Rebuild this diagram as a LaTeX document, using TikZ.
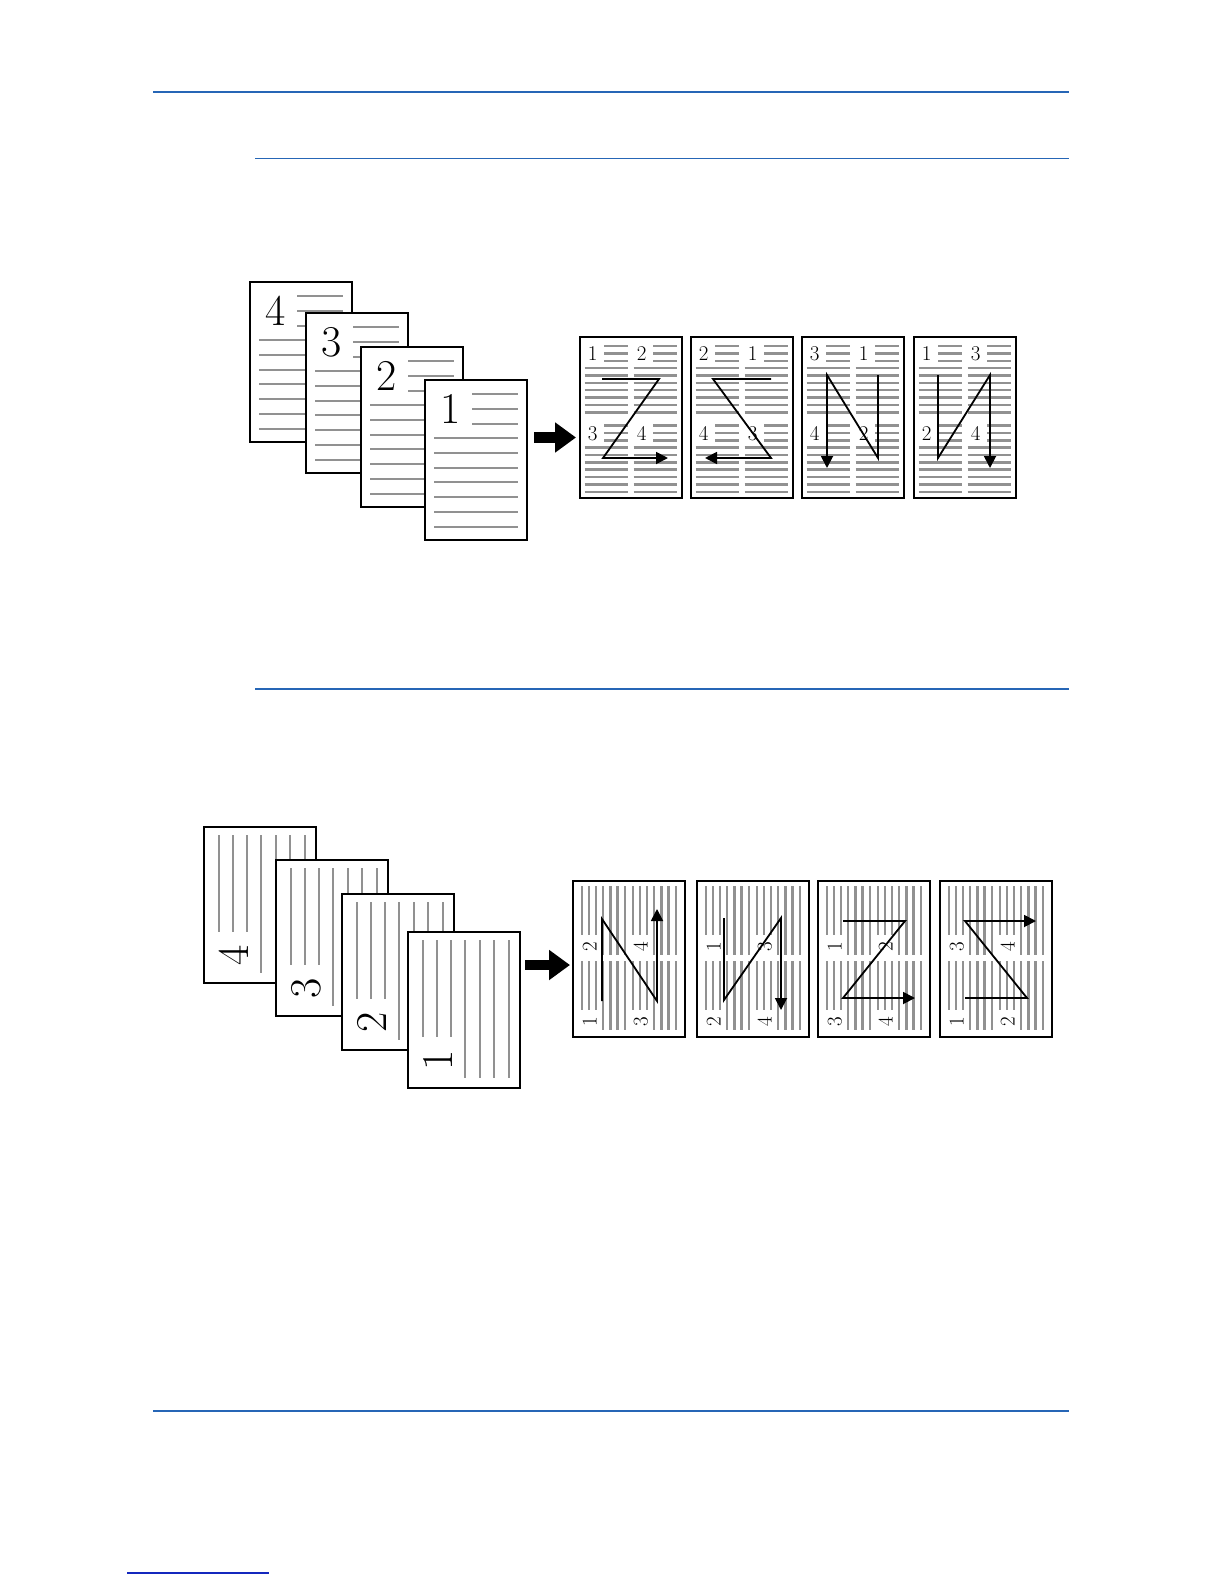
\documentclass[tikz,border=0pt]{standalone}
\usepackage{fontspec}
\usetikzlibrary{arrows.meta}
\definecolor{rulecol}{RGB}{38,102,182}
\definecolor{rulecoldark}{RGB}{20,40,190}
\definecolor{txtgray}{RGB}{145,145,145}
\tikzset{
  gl/.style={draw=txtgray, line width=2.1pt},
  hrule/.style={draw=rulecol, line width=1.3pt},
  num/.style={inner sep=0pt, outer sep=0pt, anchor=base west},
  sheetA/.style={draw=black, fill=white, line width=2.1pt, anchor=north west, inner sep=0pt, outer sep=0pt, minimum width=102pt, minimum height=160pt},
  sheetO/.style={sheetA, minimum height=161pt},
  sheetB/.style={draw=black, fill=white, line width=2.1pt, anchor=north west, inner sep=0pt, outer sep=0pt, minimum width=112pt, minimum height=156pt},
  zz/.style={draw=black, line width=1.8pt, -{Triangle[length=12pt,width=12pt]}},
  fatarrow/.style={draw=black, line width=10.5pt, -{Triangle[length=21pt,width=29pt]}}
}
\newcommand\numfnt[1]{\fontsize{#1}{#1}\selectfont\addfontfeature{FakeBold=1.3}}
% horizontal-text page content: x, y, xscale, yscale, number, font size, node name
\newcommand\hcont[7]{%
  \begin{scope}[shift={(#1,#2)}, xscale=#3, yscale=#4]
    \foreach \yy in {14,29,44}{\draw[gl] (47,\yy) -- (93,\yy);}
    \foreach \yy in {58,73,88,102,117,132,147}{\draw[gl] (9,\yy) -- (93,\yy);}
    \node[num, font=\numfnt{#6}] (#7) at (15,43) {#5};
  \end{scope}}
% rotated-text page content
\newcommand\vcont[7]{%
  \begin{scope}[shift={(#1,#2)}, xscale=#3, yscale=#4]
    \foreach \xx in {15,29,43}{\draw[gl] (\xx,8) -- (\xx,105);}
    \foreach \xx in {57,72,86,101}{\draw[gl] (\xx,8) -- (\xx,146);}
    \node[num, rotate=90, font=\numfnt{#6}] (#7) at (44,138) {#5};
  \end{scope}}
\begin{document}
\begin{tikzpicture}[x=1pt, y=-1pt]
\fill[white] (0,0) rectangle (1224,1584);
\useasboundingbox (0,0) rectangle (1224,1584);

% blue rules
\coordinate (ra1) at (153,92);   \coordinate (ra2) at (1069,92);
\coordinate (rb1) at (255,158.5); \coordinate (rb2) at (1069,158.5);
\coordinate (rc1) at (255,689);  \coordinate (rc2) at (1069,689);
\coordinate (rd1) at (153,1411); \coordinate (rd2) at (1069,1411);
\coordinate (re1) at (127,1573); \coordinate (re2) at (269,1573);
\draw[hrule] (ra1) -- (ra2);
\draw[hrule] (rb1) -- (rb2);
\draw[hrule] (rc1) -- (rc2);
\draw[hrule] (rd1) -- (rd2);
\draw[draw=rulecoldark, line width=1.3pt] (re1) -- (re2);

% ===== top: stacked input pages =====
\node[sheetA, line width=1.5pt] (t4) at (250,282) {};
\hcont{250}{282}{1}{1}{4}{44}{t4n}
\node[sheetA] (t3) at (306,313) {};
\hcont{306}{313}{1}{1}{3}{44}{t3n}
\node[sheetA] (t2) at (361,347) {};
\hcont{361}{347}{1}{1}{2}{44}{t2n}
\node[sheetA] (t1) at (425,380) {};
\hcont{425}{380}{1}{1}{1}{44}{t1n}

\coordinate (fa1) at (534,437.5); \coordinate (fa2) at (576,437.5);
\draw[fatarrow] (fa1) -- (fa2);

% ===== top: output pages =====
% P1
\node[sheetO] (p1) at (580,337) {};
\hcont{580}{339}{0.52}{0.5}{1}{21}{p1a}
\hcont{629}{339}{0.52}{0.5}{2}{21}{p1b}
\hcont{580}{418.5}{0.52}{0.5}{3}{21}{p1c}
\hcont{629}{418.5}{0.52}{0.5}{4}{21}{p1d}
\begin{scope}[shift={(580,337)}]
  \draw[zz] (22,42) -- (79,42) -- (23,121) -- (88,121);
\end{scope}
% P2
\node[sheetO] (p2) at (691,337) {};
\hcont{691}{339}{0.52}{0.5}{2}{21}{p2a}
\hcont{740}{339}{0.52}{0.5}{1}{21}{p2b}
\hcont{691}{418.5}{0.52}{0.5}{4}{21}{p2c}
\hcont{740}{418.5}{0.52}{0.5}{3}{21}{p2d}
\begin{scope}[shift={(691,337)}]
  \draw[zz] (80,42) -- (22,42) -- (80,121) -- (14,121);
\end{scope}
% P3
\node[sheetO] (p3) at (802,337) {};
\hcont{802}{339}{0.52}{0.5}{3}{21}{p3a}
\hcont{851}{339}{0.52}{0.5}{1}{21}{p3b}
\hcont{802}{418.5}{0.52}{0.5}{4}{21}{p3c}
\hcont{851}{418.5}{0.52}{0.5}{2}{21}{p3d}
\begin{scope}[shift={(802,337)}]
  \draw[zz] (76,38) -- (76,121) -- (25,38) -- (25,131);
\end{scope}
% P4
\node[sheetO] (p4) at (914,337) {};
\hcont{914}{339}{0.52}{0.5}{1}{21}{p4a}
\hcont{963}{339}{0.52}{0.5}{3}{21}{p4b}
\hcont{914}{418.5}{0.52}{0.5}{2}{21}{p4c}
\hcont{963}{418.5}{0.52}{0.5}{4}{21}{p4d}
\begin{scope}[shift={(914,337)}]
  \draw[zz] (24,38) -- (24,121) -- (76,38) -- (76,131);
\end{scope}

% ===== bottom: stacked input pages =====
\node[sheetB] (b4) at (204,827) {};
\vcont{204}{827}{1}{1}{4}{44}{b4n}
\node[sheetB] (b3) at (276,860) {};
\vcont{276}{860}{1}{1}{3}{44}{b3n}
\node[sheetB] (b2) at (342,894) {};
\vcont{342}{894}{1}{1}{2}{44}{b2n}
\node[sheetB] (b1) at (408,932) {};
\vcont{408}{932}{1}{1}{1}{44}{b1n}

\coordinate (fb1) at (525,965); \coordinate (fb2) at (570,965);
\draw[fatarrow] (fb1) -- (fb2);

% ===== bottom: output pages =====
% Q1
\node[sheetB] (q1) at (573,881) {};
\vcont{574.5}{882}{0.5}{0.5}{2}{21}{q1a}
\vcont{625.5}{882}{0.5}{0.5}{4}{21}{q1b}
\vcont{574.5}{957}{0.5}{0.5}{1}{21}{q1c}
\vcont{625.5}{957}{0.5}{0.5}{3}{21}{q1d}
\begin{scope}[shift={(573,881)}]
  \draw[zz] (29,120) -- (29,38) -- (84,120) -- (84,28);
\end{scope}
% Q2
\node[sheetB] (q2) at (697,881) {};
\vcont{698.5}{882}{0.5}{0.5}{1}{21}{q2a}
\vcont{749.5}{882}{0.5}{0.5}{3}{21}{q2b}
\vcont{698.5}{957}{0.5}{0.5}{2}{21}{q2c}
\vcont{749.5}{957}{0.5}{0.5}{4}{21}{q2d}
\begin{scope}[shift={(697,881)}]
  \draw[zz] (27,37) -- (27,119) -- (84,37) -- (84,129);
\end{scope}
% Q3
\node[sheetB] (q3) at (818,881) {};
\vcont{819.5}{882}{0.5}{0.5}{1}{21}{q3a}
\vcont{870.5}{882}{0.5}{0.5}{2}{21}{q3b}
\vcont{819.5}{957}{0.5}{0.5}{3}{21}{q3c}
\vcont{870.5}{957}{0.5}{0.5}{4}{21}{q3d}
\begin{scope}[shift={(818,881)}]
  \draw[zz] (25,40) -- (87,40) -- (25,117) -- (97,117);
\end{scope}
% Q4
\node[sheetB] (q4) at (940,881) {};
\vcont{941.5}{882}{0.5}{0.5}{3}{21}{q4a}
\vcont{992.5}{882}{0.5}{0.5}{4}{21}{q4b}
\vcont{941.5}{957}{0.5}{0.5}{1}{21}{q4c}
\vcont{992.5}{957}{0.5}{0.5}{2}{21}{q4d}
\begin{scope}[shift={(940,881)}]
  \draw[zz] (25,117) -- (87,117) -- (25,40) -- (96,40);
\end{scope}
\end{tikzpicture}
\end{document}
